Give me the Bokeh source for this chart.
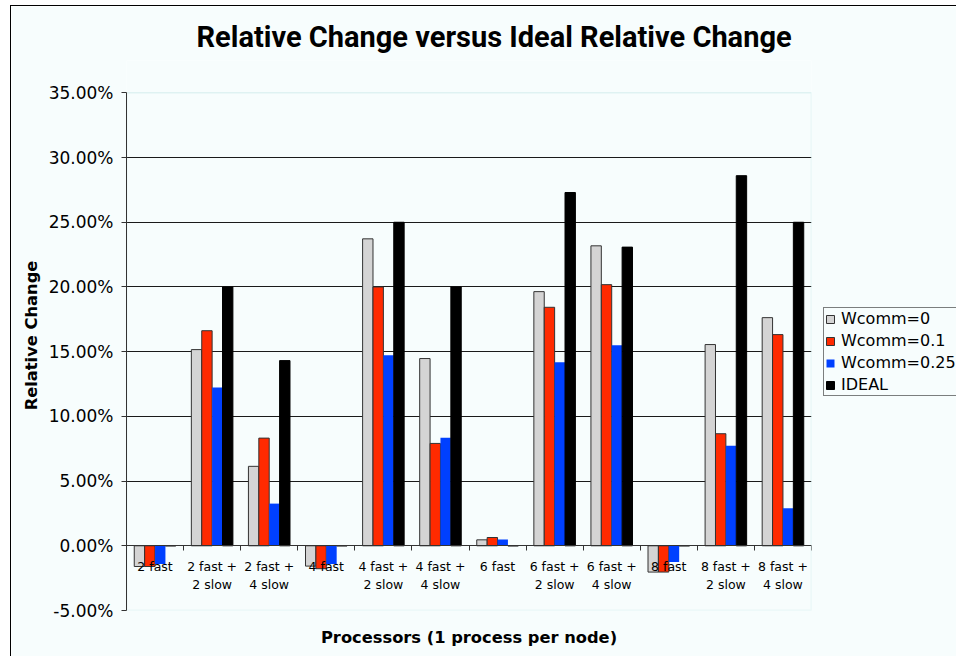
from bokeh.plotting import figure
from bokeh.models import (ColumnDataSource, FixedTicker, NumeralTickFormatter, Title,
                          Legend, LegendItem, BoxAnnotation)
from bokeh.transform import dodge
from bokeh.embed import file_html
from bokeh.resources import INLINE

# ---- data (relative change, fractions) ----
categories = ["2 fast", "2 fast +\n2 slow", "2 fast +\n4 slow", "4 fast",
              "4 fast +\n2 slow", "4 fast +\n4 slow", "6 fast",
              "6 fast +\n2 slow", "6 fast +\n4 slow", "8 fast",
              "8 fast +\n2 slow", "8 fast +\n4 slow"]
wcomm_0 = [-0.0160, 0.1516, 0.0614, -0.0157, 0.2372, 0.1447, 0.0046,
           0.1964, 0.2318, -0.0203, 0.1555, 0.1763]
wcomm_01 = [-0.0160, 0.1662, 0.0832, -0.0177, 0.2000, 0.0791, 0.0064,
            0.1843, 0.2018, -0.0203, 0.0866, 0.1632]
wcomm_025 = [-0.0140, 0.1223, 0.0326, -0.0140, 0.1472, 0.0835, 0.0049,
             0.1419, 0.1550, -0.0126, 0.0774, 0.0290]
ideal = [0.0, 0.2000, 0.1431, 0.0, 0.2500, 0.2000, 0.0,
         0.2730, 0.2308, 0.0, 0.2860, 0.2500]
y_ticks = [-0.05, 0.0, 0.05, 0.10, 0.15, 0.20, 0.25, 0.30, 0.35]
grid_ticks = [0.05, 0.10, 0.15, 0.20, 0.25, 0.30]
Y_MIN, Y_MAX = -0.05, 0.35

xpos = list(range(1, len(categories) + 1))
X_MIN, X_MAX = 0.5, len(categories) + 0.5
src = ColumnDataSource(dict(x=xpos, w0=wcomm_0, w01=wcomm_01,
                            w025=wcomm_025, ideal=ideal))

BG = "#F7FDFD"
EDGE = "#A8DCDC"
FONT = "DejaVu Sans"

# frame extends a little above the plot area (35%) to leave room for the title
p = figure(frame_width=685, frame_height=550,
           min_border_left=115, min_border_right=145,
           min_border_top=54, min_border_bottom=46,
           x_range=(X_MIN, X_MAX), y_range=(Y_MIN, 0.375),
           output_backend="svg", toolbar_location=None,
           background_fill_color=BG, border_fill_color=BG)
p.styles = {"margin-left": "10px", "margin-top": "5px",
            "border-left": "1px solid #000000", "border-top": "1px solid #000000"}
p.outline_line_color = None

p.title = Title(text="Relative Change versus Ideal Relative Change",
                align="left", offset=70, vertical_align="bottom",
                text_font="Roboto", text_font_style="bold",
                text_font_size="29px", text_color="#000000", standoff=13)

# light plot-area edge
p.add_layout(BoxAnnotation(left=X_MIN, right=X_MAX, bottom=Y_MIN, top=Y_MAX,
                           fill_alpha=0, line_color=EDGE, line_width=1.5,
                           level="underlay"))

bw = 0.182
series = [("w0", "Wcomm=0", "#D4D4D4", "#333333", -1.5),
          ("w01", "Wcomm=0.1", "#FF2A00", "#333333", -0.5),
          ("w025", "Wcomm=0.25", "#0040FF", None, 0.5),
          ("ideal", "IDEAL", "#000000", "#000000", 1.5)]
items = []
for col, lab, fill, line, k in series:
    r = p.vbar(x=dodge("x", k * bw, range=p.x_range), top=col, bottom=0,
               width=bw, source=src, fill_color=fill, line_color=line,
               line_width=1)
    items.append(LegendItem(label=lab, renderers=[r]))

# y axis
yax = p.yaxis[0]
yax.bounds = (Y_MIN, Y_MAX)
yax.ticker = FixedTicker(ticks=y_ticks, minor_ticks=[])
yax.formatter = NumeralTickFormatter(format="0.00%")
yax.major_label_text_font = FONT
yax.major_label_text_font_size = "17px"
yax.major_label_text_color = "#000000"
yax.major_tick_in = 0
yax.major_tick_out = 5
yax.major_tick_line_color = "#333333"
yax.axis_line_color = "#333333"
yax.major_label_standoff = 8
yax.axis_label = "Relative Change"
yax.axis_label_text_font = FONT
yax.axis_label_text_font_style = "bold"
yax.axis_label_text_font_size = "16.3px"
yax.axis_label_text_color = "#000000"
yax.axis_label_standoff = 5

# x axis at zero
xax = p.xaxis[0]
xax.fixed_location = 0
xax.ticker = FixedTicker(ticks=xpos, minor_ticks=[i + 0.5 for i in range(0, len(categories) + 1)])
xax.major_label_overrides = {x: c for x, c in zip(xpos, categories)}
xax.major_label_text_font = FONT
xax.major_label_text_font_size = "12.5px"
xax.major_label_text_color = "#000000"
xax.major_tick_line_color = None
xax.minor_tick_in = 0
xax.minor_tick_out = 5
xax.minor_tick_line_color = "#333333"
xax.axis_line_color = "#333333"
xax.major_label_standoff = 7

p.add_layout(Title(text="Processors (1 process per node)", align="center",
                   text_font=FONT, text_font_style="bold",
                   text_font_size="16.3px", text_color="#000000",
                   standoff=30), "below")

# grid
p.xgrid.visible = False
p.ygrid.ticker = FixedTicker(ticks=grid_ticks)
p.ygrid.grid_line_color = "#1A1A1A"
p.ygrid.grid_line_width = 1

# legend
lg = Legend(items=items, location=(12, 214))
lg.label_text_font = FONT
lg.label_text_font_size = "16px"
lg.label_text_color = "#000000"
lg.glyph_width = 10
lg.glyph_height = 10
lg.label_height = 18
lg.label_standoff = 6
lg.spacing = 3
lg.padding = 1
lg.margin = 0
lg.border_line_color = "#000000"
lg.border_line_width = 1
lg.background_fill_color = BG
lg.background_fill_alpha = 1
p.add_layout(lg, "right")

open("out.html", "w").write(file_html(p, INLINE))
